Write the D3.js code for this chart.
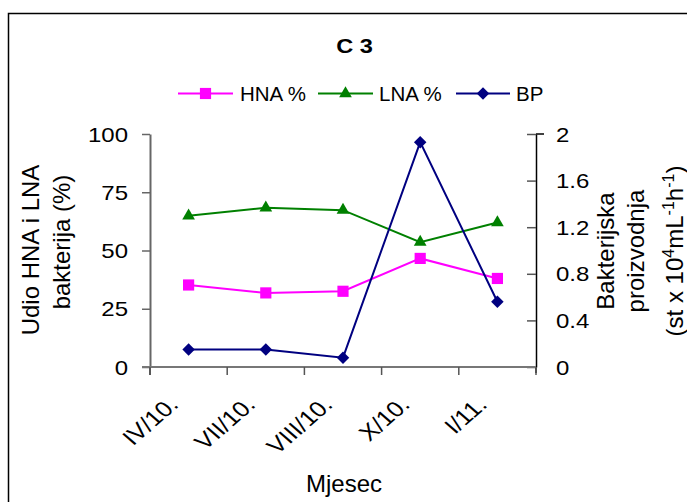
<!DOCTYPE html>
<html>
<head>
<meta charset="utf-8">
<script src="https://cdn.jsdelivr.net/npm/d3@7"></script>
<style>
  html, body { margin: 0; padding: 0; background: #fff; }
  svg { display: block; font-family: "Liberation Sans", Arial, sans-serif; }
</style>
</head>
<body>
<svg id="chart" width="687" height="502"></svg>
<script>
// ---- data ----
const months = ["IV/10.", "VII/10.", "VIII/10.", "X/10.", "I/11."];
const hnaValues = [35.2, 31.8, 32.5, 46.6, 38.0];
const lnaValues = [64.9, 68.3, 67.3, 53.6, 62.0];
const bpValues = [0.15, 0.15, 0.08, 1.93, 0.56];
const leftTicks = [0, 25, 50, 75, 100];
const rightTicks = [0, 0.4, 0.8, 1.2, 1.6, 2];
const seriesNames = ["HNA %", "LNA %", "BP"];

const svg = d3.select("#chart");

// border
svg.append("rect").attr("x", 8.5).attr("y", 13.5).attr("width", 720).attr("height", 520)
  .attr("fill", "none").attr("stroke", "#000").attr("stroke-width", 1.5);

const plot = { left: 150, right: 536, top: 134, bottom: 367 };

const x = d3.scaleBand().domain(months).range([plot.left, plot.right]);
const xc = d => x(d) + x.bandwidth() / 2;
const yL = d3.scaleLinear().domain([0, 100]).range([plot.bottom, plot.top]);
const yR = d3.scaleLinear().domain([0, 2]).range([plot.bottom, plot.top]);

const SX = 1.2; // horizontal stretch of tick labels / title

// left axis
const gL = svg.append("g").attr("transform", `translate(${plot.left},0)`)
  .call(d3.axisLeft(yL).tickValues(leftTicks).tickSize(8).tickSizeOuter(0).tickFormat(d3.format("d")));
gL.select(".domain").attr("stroke", "#666").attr("stroke-width", 2);
gL.selectAll(".tick line").attr("stroke", "#666").attr("stroke-width", 1.5);
gL.selectAll(".tick text")
  .attr("x", 0).attr("dy", null).attr("y", 7)
  .attr("transform", `translate(-22,0) scale(${SX},1)`)
  .attr("font-size", 20).attr("fill", "#000").attr("text-anchor", "end");
gL.attr("font-family", null).attr("font-size", null);
svg.append("line").attr("x1", plot.left).attr("x2", plot.left).attr("y1", plot.bottom).attr("y2", plot.bottom + 8)
  .attr("stroke", "#666").attr("stroke-width", 2);

// right axis
const gR = svg.append("g").attr("transform", `translate(${plot.right},0)`)
  .call(d3.axisRight(yR).tickValues(rightTicks).tickSize(-9).tickSizeOuter(0).tickFormat(d => d === 0 ? "0" : d3.format("")(d)));
gR.select(".domain").attr("stroke", "#000").attr("stroke-width", 1.5);
gR.selectAll(".tick line").attr("stroke", "#555").attr("stroke-width", 1.5);
gR.selectAll(".tick text")
  .attr("x", 0).attr("dy", null).attr("y", 7)
  .attr("transform", `translate(20,0) scale(${SX},1)`)
  .attr("font-size", 20).attr("fill", "#000").attr("text-anchor", "start");
gR.attr("font-family", null).attr("font-size", null);
svg.append("line").attr("x1", plot.right).attr("x2", plot.right + 8).attr("y1", plot.top).attr("y2", plot.top)
  .attr("stroke", "#000").attr("stroke-width", 1.5);
svg.append("line").attr("x1", plot.right).attr("x2", plot.right).attr("y1", plot.bottom).attr("y2", plot.bottom + 6)
  .attr("stroke", "#000").attr("stroke-width", 1.5);

// bottom axis
const boundaries = months.map(m => x(m)).concat([plot.right]);
svg.append("line").attr("x1", plot.left - 8).attr("x2", plot.right).attr("y1", plot.bottom).attr("y2", plot.bottom)
  .attr("stroke", "#777").attr("stroke-width", 2);
svg.selectAll(".xtick").data(boundaries).join("line").attr("class", "xtick")
  .attr("x1", d => d).attr("x2", d => d).attr("y1", plot.bottom).attr("y2", plot.bottom + 8)
  .attr("stroke", "#555").attr("stroke-width", 1.5);
svg.selectAll(".xlabel").data(months).join("text").attr("class", "xlabel")
  .attr("transform", d => `translate(${xc(d) - 9},406) scale(1.15,1) rotate(-45)`)
  .attr("text-anchor", "end").attr("font-size", 22).attr("fill", "#000")
  .text(d => d);

// axis titles
svg.append("text").attr("x", 344).attr("y", 492).attr("text-anchor", "middle")
  .attr("font-size", 24).text("Mjesec");

const leftTitle = ["Udio HNA i LNA", "bakterija (%)"];
const leftTitlePos = [[38.5, 250], [70, 242]];
leftTitle.forEach((t, i) => {
  svg.append("text").attr("transform", `translate(${leftTitlePos[i][0]},${leftTitlePos[i][1]}) rotate(-90)`)
    .attr("text-anchor", "middle").attr("font-size", 24).text(t);
});

const rt = svg.append("g").attr("transform", "translate(0,251)");
rt.append("text").attr("transform", "translate(613.5,0) rotate(-90)").attr("text-anchor", "middle")
  .attr("font-size", 24).text("Bakterijska");
rt.append("text").attr("transform", "translate(644,0) rotate(-90)").attr("text-anchor", "middle")
  .attr("font-size", 24).text("proizvodnja");
const t3 = rt.append("text").attr("transform", "translate(683,0) rotate(-90)").attr("text-anchor", "middle")
  .attr("font-size", 24);
t3.append("tspan").text("(st x 10");
t3.append("tspan").attr("dy", -9).attr("font-size", 16).text("4");
t3.append("tspan").attr("dy", 9).text("mL");
t3.append("tspan").attr("dy", -9).attr("font-size", 16).text("-1");
t3.append("tspan").attr("dy", 9).text("h");
t3.append("tspan").attr("dy", -9).attr("font-size", 16).text("-1");
t3.append("tspan").attr("dy", 9).text(")");

// title
svg.append("text").attr("transform", `translate(354.5,52.5) scale(1.15,1)`).attr("text-anchor", "middle")
  .attr("font-size", 20.5).attr("font-weight", "bold").text("C 3");

// series
const series = [
  { name: seriesNames[0], values: hnaValues, y: yL, color: "#FF00FF", sym: d3.symbolSquare, size: 125, rot: 0 },
  { name: seriesNames[1], values: lnaValues, y: yL, color: "#008000", sym: d3.symbolTriangle, size: 70, rot: 0 },
  { name: seriesNames[2], values: bpValues, y: yR, color: "#000080", sym: d3.symbolSquare, size: 78, rot: 45 }
];

series.forEach(s => {
  const pts = months.map((m, i) => [xc(m), s.y(s.values[i])]);
  svg.append("path").attr("d", d3.line()(pts)).attr("fill", "none")
    .attr("stroke", s.color).attr("stroke-width", 2);
  svg.selectAll(null).data(pts).join("path")
    .attr("d", d3.symbol().type(s.sym).size(s.size)())
    .attr("transform", d => `translate(${d[0]},${d[1]}) rotate(${s.rot})`)
    .attr("fill", s.color);
});

// legend
const legendItems = [
  { x1: 178, x2: 233, tx: 240 },
  { x1: 318, x2: 373, tx: 379 },
  { x1: 456, x2: 510, tx: 516 }
];
const ly = 93.5;
series.forEach((s, i) => {
  const li = legendItems[i];
  svg.append("line").attr("x1", li.x1).attr("x2", li.x2).attr("y1", ly).attr("y2", ly)
    .attr("stroke", s.color).attr("stroke-width", 2);
  svg.append("path").attr("d", d3.symbol().type(s.sym).size(s.size)())
    .attr("transform", `translate(${(li.x1 + li.x2) / 2},${ly}) rotate(${s.rot})`)
    .attr("fill", s.color);
  svg.append("text").attr("x", li.tx).attr("y", ly + 7).attr("font-size", 20.5).text(s.name);
});
</script>
</body>
</html>
